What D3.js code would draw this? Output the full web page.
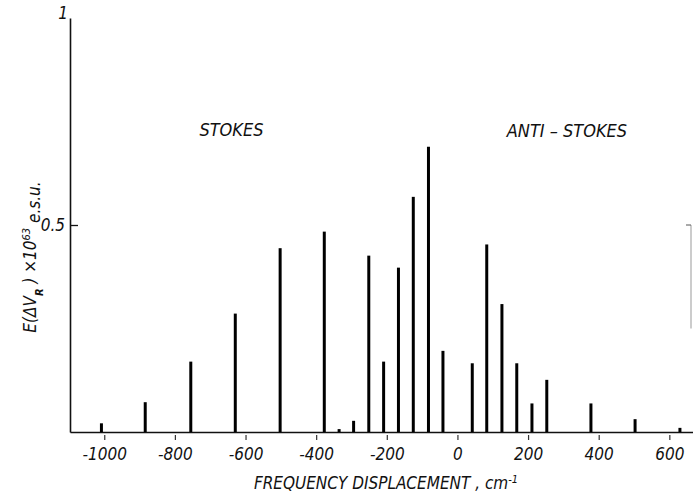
<!DOCTYPE html>
<html>
<head>
<meta charset="utf-8">
<script src="https://cdn.jsdelivr.net/npm/d3@7"></script>
<style>
  body { margin: 0; background: #fff; }
  text { font-family: "Liberation Sans Narrow", "DejaVu Sans Condensed", sans-serif; font-style: italic; fill: #111; }
</style>
</head>
<body>
<script>
// Data: frequency displacement (cm-1) and E(dV) x 10^63 e.s.u.
const shifts = [-1008, -884, -755, -629, -502, -377, -335, -294, -251, -209, -167, -125, -82, -41,
                42, 83, 126, 168, 211, 253, 378, 503, 630];
const values = [0.021, 0.072, 0.17, 0.286, 0.444, 0.484, 0.007, 0.027, 0.426, 0.17, 0.397, 0.568, 0.689, 0.196,
                0.166, 0.453, 0.309, 0.166, 0.069, 0.126, 0.069, 0.031, 0.01];
const xTicks = [-1000, -800, -600, -400, -200, 0, 200, 400, 600];
const yTicks = [0.5, 1];

const width = 693, height = 497;

const svg = d3.select("body").append("svg")
    .attr("width", width)
    .attr("height", height);

// Scales
const x = d3.scaleLinear()
    .domain([-1097, 667])
    .range([70, 693]);
const y = d3.scaleLinear()
    .domain([0, 1])
    .range([432, 18]);

// X axis
const xAxis = svg.append("g")
    .attr("transform", "translate(0," + y(0) + ")")
    .call(d3.axisBottom(x)
      .tickValues(xTicks)
      .tickSizeOuter(0)
      .tickSizeInner(8)
      .tickPadding(8)
      .tickFormat(d => d < 0 ? "-" + Math.abs(d) : d));
xAxis.select(".domain").attr("stroke", "#111").attr("stroke-width", 1.6);
xAxis.selectAll(".tick line").attr("stroke", "#333").attr("stroke-width", 1.2).attr("y1", 3);
xAxis.selectAll(".tick text").attr("font-size", 17).attr("font-family", null);

// Y axis
const yAxis = svg.append("g")
    .attr("transform", "translate(" + x.range()[0] + ",0)")
    .call(d3.axisLeft(y)
      .tickValues(yTicks)
      .tickSizeOuter(0)
      .tickSizeInner(-8)
      .tickPadding(5)
      .tickFormat(d => d === 1 ? "1" : d));
yAxis.select(".domain").attr("stroke", "#111").attr("stroke-width", 1.6);
yAxis.selectAll(".tick line").attr("stroke", "#111").attr("stroke-width", 1.3)
    .filter(d => d === 1).remove();
yAxis.selectAll(".tick text").attr("font-size", 17).attr("font-family", null)
    .filter(d => d === 1).attr("dy", "0.05em").attr("x", -2);

// Faint right frame edge
svg.append("line")
    .attr("x1", 691).attr("x2", 691)
    .attr("y1", y(0.5)).attr("y2", y(0.25))
    .attr("stroke", "#999").attr("stroke-width", 1);
svg.append("line")
    .attr("x1", 686).attr("x2", 691)
    .attr("y1", y(0.5)).attr("y2", y(0.5))
    .attr("stroke", "#555").attr("stroke-width", 1);

// Spectral lines
svg.selectAll("line.bar")
    .data(shifts)
    .enter()
    .append("line")
      .attr("class", "bar")
      .attr("x1", d => x(d))
      .attr("x2", d => x(d))
      .attr("y1", y(0))
      .attr("y2", (d, i) => y(values[i]))
      .attr("stroke", "#000")
      .attr("stroke-width", 3);

// Region labels
svg.append("text")
    .attr("x", x(-640))
    .attr("y", 136)
    .attr("text-anchor", "middle")
    .attr("font-size", 18)
    .text("STOKES");
svg.append("text")
    .attr("x", x(310))
    .attr("y", 137)
    .attr("text-anchor", "middle")
    .attr("font-size", 18)
    .text("ANTI \u2013 STOKES");

// X axis label
const xl = svg.append("text")
    .attr("x", 386)
    .attr("y", 489)
    .attr("text-anchor", "middle")
    .attr("font-size", 17);
xl.append("tspan").text("FREQUENCY  DISPLACEMENT , cm");
xl.append("tspan").attr("baseline-shift", "super").attr("font-size", 11).text("-1");

// Y axis label
const yl = svg.append("text")
    .attr("transform", "translate(36,257) rotate(-90)")
    .attr("text-anchor", "middle")
    .attr("font-size", 17);
yl.append("tspan").text("E(\u0394V");
yl.append("tspan").attr("baseline-shift", "sub").attr("font-size", 11).attr("font-weight", "bold").text("R");
yl.append("tspan").text(" ) \u00d710");
yl.append("tspan").attr("baseline-shift", "super").attr("font-size", 11).text("63");
yl.append("tspan").attr("baseline-shift", "-4").text(" e.s.u.");
</script>
</body>
</html>
